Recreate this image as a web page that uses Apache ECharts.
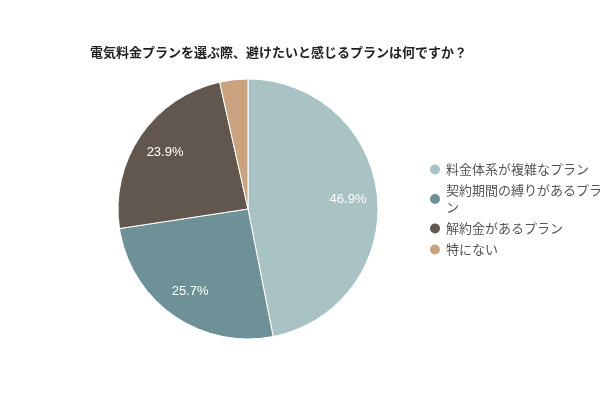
<!DOCTYPE html>
<html>
<head>
<meta charset="utf-8">
<script src="https://cdn.jsdelivr.net/npm/echarts@6/dist/echarts.min.js"></script>
<style>html,body{margin:0;padding:0;background:#fff;}#c{width:600px;height:400px;}</style>
</head>
<body>
<div id="c"></div>
<script>
const titleText = '電気料金プランを選ぶ際、避けたいと感じるプランは何ですか？';
const categories = ['料金体系が複雑なプラン', '契約期間の縛りがあるプラン', '解約金があるプラン', '特にない'];
const values = [46.9, 25.7, 23.9, 3.5];
const colors = ['#a9c2c3', '#6d9196', '#62574e', '#c9a37f'];

const data = categories.map((n, i) => ({ name: n, value: values[i], itemStyle: { color: colors[i] } }));
const labelData = categories.map((n, i) => ({ name: n, value: values[i] }));

const chart = echarts.init(document.getElementById('c'), null, { renderer: 'canvas' });
chart.setOption({
  backgroundColor: '#fff',
  animation: false,
  title: {
    text: titleText,
    left: 85, top: 41,
    textStyle: { fontSize: 13, fontWeight: 'bold', color: '#222', fontFamily: '"Noto Sans CJK JP", sans-serif' }
  },
  legend: {
    orient: 'vertical',
    left: 423, top: 156,
    itemWidth: 12, itemHeight: 12, itemGap: 4,
    icon: 'circle',
    data: categories,
    textStyle: { fontSize: 13, color: '#555', width: 158, overflow: 'break', lineHeight: 17, fontFamily: '"Noto Sans CJK JP", sans-serif' }
  },
  series: [
    {
      type: 'pie',
      center: [248, 209],
      radius: [0, 130],
      startAngle: 90,
      clockwise: true,
      data: data,
      label: { show: false },
      labelLine: { show: false },
      itemStyle: { borderColor: '#fff', borderWidth: 1 },
      emphasis: { disabled: true }
    },
    {
      type: 'pie',
      center: [248, 209],
      radius: [65, 130],
      startAngle: 90,
      clockwise: true,
      silent: true,
      data: labelData,
      itemStyle: { color: 'rgba(0,0,0,0)', borderWidth: 0 },
      label: {
        show: true, position: 'inside',
        formatter: p => p.value >= 10 ? p.value.toFixed(1) + '%' : '',
        color: '#fff', fontSize: 13, fontWeight: 500, fontFamily: 'Arial, "Liberation Sans", sans-serif'
      },
      labelLine: { show: false },
      emphasis: { disabled: true }
    }
  ]
});
</script>
</body>
</html>
